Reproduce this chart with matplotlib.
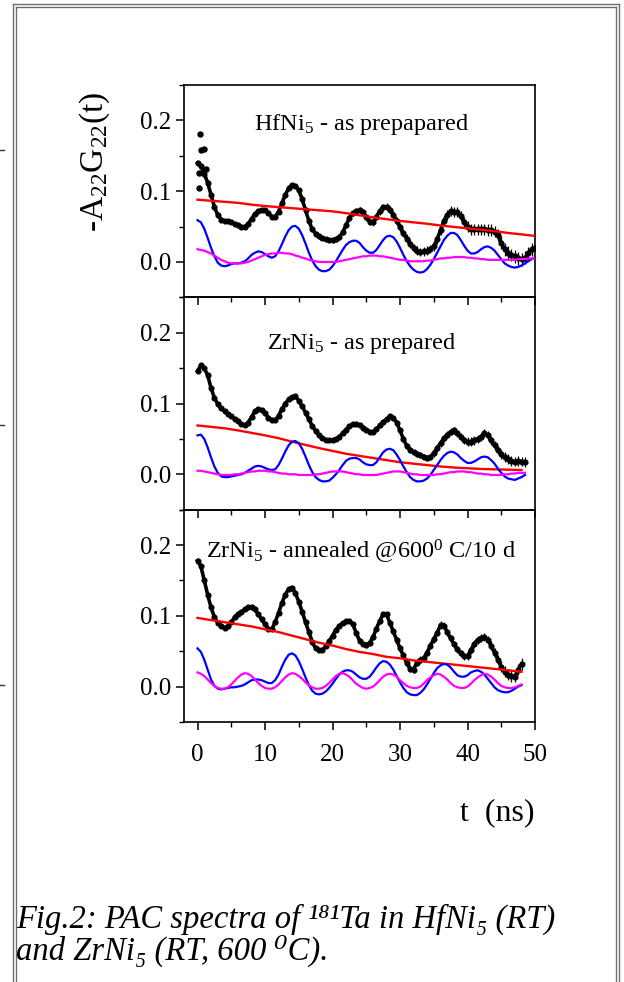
import numpy as np
import matplotlib.pyplot as plt
from matplotlib.ticker import MultipleLocator
from matplotlib.lines import Line2D

plt.rcParams['font.family'] = ['Liberation Serif', 'DejaVu Serif']
plt.rcParams['mathtext.fontset'] = 'custom'
plt.rcParams['mathtext.rm'] = 'Liberation Serif'
plt.rcParams['mathtext.it'] = 'Liberation Serif:italic'
plt.rcParams['mathtext.bf'] = 'Liberation Serif:bold'

# ---- HfNi5 as prepared (0..50 ns, every 0.5 ns)
t_hf = np.arange(0, 50.01, 0.5)
hf_data = [0.140, 0.135, 0.125, 0.112, 0.095, 0.078, 0.066, 0.060, 0.058, 0.058,
           0.056, 0.054, 0.052, 0.050, 0.050, 0.054, 0.061, 0.068, 0.072, 0.074,
           0.073, 0.069, 0.064, 0.064, 0.071, 0.083, 0.095, 0.104, 0.109, 0.108,
           0.101, 0.089, 0.073, 0.058, 0.046, 0.040, 0.036, 0.034, 0.032, 0.031,
           0.031, 0.032, 0.035, 0.042, 0.052, 0.062, 0.069, 0.072, 0.073, 0.070,
           0.063, 0.057, 0.056, 0.064, 0.072, 0.077, 0.078, 0.074, 0.067, 0.058,
           0.049, 0.041, 0.033, 0.026, 0.020, 0.016, 0.014, 0.015, 0.016, 0.018,
           0.022, 0.032, 0.045, 0.058, 0.067, 0.072, 0.071, 0.070, 0.065, 0.057,
           0.050, 0.046, 0.046, 0.046, 0.046, 0.046, 0.045, 0.045, 0.043, 0.038,
           0.027, 0.018, 0.013, 0.010, 0.008, 0.005, 0.004, 0.006, 0.012, 0.018,
           0.020]
hf_err = [0.002, 0.002, 0.002, 0.003, 0.004, 0.005, 0.006, 0.007, 0.008, 0.009, 0.010]
hf_early_t = [0.15, 0.15, 0.3, 0.5, 0.9, 1.2]
hf_early_y = [0.126, 0.105, 0.181, 0.158, 0.159, 0.132]
hf_blue = [0.059, 0.056, 0.047, 0.034, 0.020, 0.008, -0.001, -0.005, -0.006, -0.005,
           -0.003, -0.002, -0.002, -0.001, 0.001, 0.005, 0.010, 0.013, 0.015, 0.014,
           0.011, 0.008, 0.006, 0.008, 0.015, 0.025, 0.036, 0.045, 0.050, 0.051,
           0.047, 0.038, 0.026, 0.013, 0.002, -0.006, -0.011, -0.013, -0.013, -0.011,
           -0.006, 0.001, 0.009, 0.017, 0.024, 0.028, 0.030, 0.030, 0.027, 0.021,
           0.016, 0.013, 0.013, 0.017, 0.024, 0.031, 0.036, 0.037, 0.035, 0.029,
           0.020, 0.010, 0.001, -0.006, -0.011, -0.014, -0.015, -0.014, -0.010, -0.004,
           0.004, 0.013, 0.022, 0.031, 0.037, 0.041, 0.041, 0.038, 0.031, 0.023,
           0.016, 0.012, 0.012, 0.014, 0.018, 0.021, 0.022, 0.020, 0.016, 0.010,
           0.004, -0.002, -0.005, -0.007, -0.008, -0.007, -0.005, -0.002, 0.001, 0.004,
           0.006]
hf_mag = [0.018, 0.017, 0.016, 0.014, 0.012, 0.009, 0.006, 0.003, 0.001, -0.001,
          -0.002, -0.002, -0.002, -0.002, -0.001, 0.000, 0.002, 0.004, 0.006, 0.008,
          0.010, 0.011, 0.012, 0.012, 0.013, 0.013, 0.012, 0.012, 0.011, 0.009,
          0.008, 0.006, 0.005, 0.003, 0.002, 0.001, 0.000, 0.000, 0.000, 0.000,
          0.000, 0.000, 0.001, 0.002, 0.003, 0.004, 0.005, 0.006, 0.007, 0.008,
          0.008, 0.009, 0.009, 0.009, 0.008, 0.008, 0.007, 0.006, 0.005, 0.004,
          0.003, 0.003, 0.002, 0.001, 0.001, 0.001, 0.001, 0.001, 0.002, 0.002,
          0.003, 0.004, 0.005, 0.005, 0.006, 0.006, 0.007, 0.007, 0.007, 0.007,
          0.006, 0.006, 0.005, 0.005, 0.004, 0.004, 0.003, 0.003, 0.003, 0.003,
          0.003, 0.003, 0.003, 0.003, 0.003, 0.004, 0.004, 0.004, 0.005, 0.005,
          0.005]
t_hf_red = np.arange(0, 50.01, 2)
hf_red = [0.088, 0.0865, 0.085, 0.0835, 0.081, 0.079, 0.0775, 0.076, 0.0745, 0.073,
          0.0715, 0.069, 0.066, 0.063, 0.0605, 0.058, 0.056, 0.054, 0.0515, 0.0495,
          0.0475, 0.0455, 0.0435, 0.041, 0.039, 0.0367]

# ---- ZrNi5 as prepared (0..48.5 ns)
t_zr = np.arange(0, 48.51, 0.5)
zr_data = [0.146, 0.154, 0.150, 0.140, 0.122, 0.108, 0.099, 0.093, 0.089, 0.085,
           0.082, 0.078, 0.075, 0.071, 0.069, 0.073, 0.081, 0.089, 0.092, 0.091,
           0.086, 0.080, 0.076, 0.076, 0.083, 0.092, 0.100, 0.106, 0.109, 0.110,
           0.104, 0.096, 0.087, 0.078, 0.068, 0.061, 0.055, 0.051, 0.049, 0.048,
           0.048, 0.050, 0.053, 0.058, 0.063, 0.068, 0.071, 0.071, 0.070, 0.066,
           0.063, 0.060, 0.060, 0.064, 0.069, 0.074, 0.078, 0.082, 0.080, 0.073,
           0.062, 0.050, 0.040, 0.034, 0.031, 0.029, 0.027, 0.025, 0.023, 0.024,
           0.030, 0.037, 0.044, 0.051, 0.056, 0.060, 0.062, 0.058, 0.053, 0.048,
           0.046, 0.046, 0.048, 0.050, 0.053, 0.058, 0.055, 0.048, 0.041, 0.034,
           0.028, 0.024, 0.021, 0.019, 0.018, 0.019, 0.018, 0.017]
zr_err = [0.002, 0.002, 0.002, 0.002, 0.003, 0.003, 0.004, 0.005, 0.006, 0.007, 0.008]
zr_blue = [0.055, 0.056, 0.050, 0.038, 0.024, 0.011, 0.002, -0.003, -0.004, -0.004,
           -0.003, -0.002, -0.001, 0.000, 0.002, 0.005, 0.008, 0.011, 0.012, 0.011,
           0.009, 0.007, 0.006, 0.007, 0.013, 0.022, 0.032, 0.041, 0.046, 0.047,
           0.044, 0.036, 0.025, 0.013, 0.003, -0.004, -0.008, -0.010, -0.010, -0.009,
           -0.005, 0.000, 0.006, 0.013, 0.019, 0.022, 0.023, 0.023, 0.021, 0.017,
           0.014, 0.013, 0.013, 0.017, 0.024, 0.031, 0.035, 0.036, 0.034, 0.028,
           0.020, 0.011, 0.003, -0.004, -0.008, -0.010, -0.010, -0.009, -0.006, -0.001,
           0.006, 0.013, 0.020, 0.026, 0.030, 0.032, 0.031, 0.028, 0.023, 0.019,
           0.016, 0.016, 0.018, 0.021, 0.024, 0.025, 0.024, 0.020, 0.015, 0.008,
           0.002, -0.003, -0.006, -0.007, -0.008, -0.006, -0.004, -0.001]
zr_mag = [0.005, 0.005, 0.004, 0.003, 0.002, 0.001, 0.000, -0.001, -0.001, -0.001,
          -0.001, 0.000, 0.000, 0.001, 0.002, 0.003, 0.004, 0.004, 0.005, 0.005,
          0.005, 0.004, 0.004, 0.003, 0.002, 0.001, 0.001, 0.000, 0.000, 0.000,
          -0.001, -0.001, -0.001, -0.001, -0.001, 0.000, 0.000, 0.001, 0.002, 0.003,
          0.004, 0.004, 0.004, 0.004, 0.003, 0.002, 0.001, 0.000, 0.000, -0.001,
          -0.001, -0.001, -0.001, -0.001, 0.000, 0.001, 0.002, 0.003, 0.004, 0.004,
          0.004, 0.003, 0.002, 0.001, 0.000, 0.000, -0.001, -0.001, -0.001, -0.001,
          -0.001, 0.000, 0.000, 0.001, 0.002, 0.003, 0.003, 0.004, 0.004, 0.004,
          0.003, 0.003, 0.002, 0.001, 0.001, 0.000, 0.000, -0.001, -0.001, -0.001,
          -0.001, 0.000, 0.000, 0.001, 0.001, 0.002, 0.002, 0.002]
t_zr_red = np.arange(0, 48.01, 2)
zr_red = [0.069, 0.067, 0.065, 0.062, 0.0585, 0.055, 0.051, 0.046, 0.0415, 0.037,
          0.033, 0.029, 0.026, 0.023, 0.020, 0.017, 0.015, 0.013, 0.011, 0.0095,
          0.0085, 0.0075, 0.007, 0.0065, 0.006]

# ---- ZrNi5 annealed 600 C / 10 d (0..48 ns)
t_ann = np.arange(0, 48.01, 0.5)
ann_data = [0.178, 0.170, 0.150, 0.130, 0.112, 0.098, 0.090, 0.086, 0.083, 0.085,
            0.091, 0.098, 0.103, 0.106, 0.109, 0.112, 0.113, 0.109, 0.102, 0.095,
            0.088, 0.082, 0.081, 0.091, 0.104, 0.118, 0.130, 0.138, 0.140, 0.132,
            0.120, 0.106, 0.091, 0.077, 0.063, 0.054, 0.051, 0.052, 0.057, 0.064,
            0.072, 0.080, 0.086, 0.090, 0.092, 0.093, 0.088, 0.076, 0.065, 0.060,
            0.059, 0.062, 0.070, 0.082, 0.093, 0.102, 0.102, 0.090, 0.078, 0.066,
            0.054, 0.044, 0.033, 0.025, 0.024, 0.034, 0.038, 0.040, 0.048, 0.058,
            0.067, 0.076, 0.087, 0.086, 0.077, 0.068, 0.060, 0.053, 0.047, 0.043,
            0.043, 0.052, 0.060, 0.066, 0.069, 0.070, 0.066, 0.058, 0.048, 0.038,
            0.028, 0.021, 0.017, 0.015, 0.014, 0.024, 0.032]
ann_err = [0.002, 0.002, 0.002, 0.002, 0.003, 0.004, 0.005, 0.005, 0.006, 0.008, 0.009]
ann_blue = [0.054, 0.049, 0.038, 0.024, 0.010, 0.001, -0.003, -0.004, -0.003, -0.002,
            -0.001, -0.001, 0.000, 0.001, 0.003, 0.006, 0.009, 0.010, 0.010, 0.009,
            0.007, 0.005, 0.005, 0.009, 0.017, 0.028, 0.038, 0.045, 0.047, 0.044,
            0.036, 0.025, 0.013, 0.002, -0.006, -0.010, -0.011, -0.010, -0.007, -0.002,
            0.004, 0.011, 0.017, 0.021, 0.023, 0.023, 0.021, 0.017, 0.013, 0.011,
            0.011, 0.014, 0.020, 0.027, 0.033, 0.036, 0.035, 0.031, 0.024, 0.015,
            0.006, -0.002, -0.008, -0.011, -0.012, -0.012, -0.009, -0.004, 0.003, 0.011,
            0.019, 0.026, 0.030, 0.032, 0.031, 0.027, 0.021, 0.016, 0.014, 0.014,
            0.016, 0.020, 0.022, 0.023, 0.021, 0.017, 0.011, 0.005, -0.001, -0.005,
            -0.007, -0.008, -0.008, -0.006, -0.003, 0.000, 0.002]
ann_mag = [0.020, 0.018, 0.015, 0.010, 0.005, 0.001, -0.002, -0.003, -0.003, -0.001,
           0.003, 0.008, 0.013, 0.017, 0.019, 0.018, 0.015, 0.010, 0.005, 0.001,
           -0.002, -0.003, -0.003, -0.001, 0.003, 0.008, 0.013, 0.017, 0.019, 0.018,
           0.015, 0.011, 0.006, 0.002, -0.001, -0.003, -0.003, -0.002, 0.001, 0.005,
           0.010, 0.015, 0.018, 0.019, 0.017, 0.014, 0.009, 0.004, 0.001, -0.002,
           -0.003, -0.002, 0.000, 0.004, 0.009, 0.014, 0.017, 0.018, 0.017, 0.014,
           0.009, 0.005, 0.001, -0.001, -0.002, -0.002, 0.000, 0.004, 0.009, 0.013,
           0.016, 0.018, 0.017, 0.014, 0.010, 0.005, 0.001, -0.001, -0.002, -0.002,
           0.000, 0.004, 0.009, 0.013, 0.016, 0.018, 0.017, 0.014, 0.010, 0.005,
           0.001, -0.001, -0.002, -0.002, -0.001, 0.001, 0.003]
t_ann_red = np.arange(0, 48.01, 2)
ann_red = [0.097, 0.094, 0.091, 0.088, 0.085, 0.081, 0.077, 0.072, 0.067, 0.062,
           0.058, 0.053, 0.049, 0.046, 0.042, 0.040, 0.037, 0.035, 0.033, 0.031,
           0.029, 0.027, 0.025, 0.023, 0.021]

labels = ['HfNi$_5$ - as prepapared',
          'ZrNi$_5$ - as prepared',
          'ZrNi$_5$ - annealed @600$^0$ C/10 d']
label_y = [0.79, 0.758, 0.772]


def draw_panel(ax, t, data, err, t_red, red, blue, mag, label, ly):
    yerr = [err[min(int(x // 5), len(err) - 1)] for x in t]
    ax.errorbar(t, data, yerr=yerr, fmt='none', ecolor='k', elinewidth=0.9,
                capsize=0, zorder=2)
    ax.plot(t, data, '-o', color='k', lw=2.6, ms=3.4, zorder=2)
    ax.plot(t_red, red, '-', color='#ff0000', lw=1.7, zorder=3)
    ax.plot(t, blue, '-', color='#0000ff', lw=1.6, zorder=4)
    ax.plot(t, mag, '-', color='#ff00ff', lw=1.6, zorder=4)
    ax.text(0.505, ly, label, transform=ax.transAxes, ha='center',
            va='baseline', fontsize=17.5)
    ax.set_xlim(-2, 50)
    ax.set_ylim(-0.05, 0.25)
    ax.xaxis.set_major_locator(MultipleLocator(10))
    ax.xaxis.set_minor_locator(MultipleLocator(5))
    ax.yaxis.set_major_locator(MultipleLocator(0.1))
    ax.yaxis.set_minor_locator(MultipleLocator(0.05))
    ax.yaxis.set_major_formatter(plt.FuncFormatter(lambda v, p: '%.1f' % v))
    ax.tick_params(which='major', direction='out', length=6, width=1.1,
                   labelsize=18, top=False, right=False)
    ax.tick_params(which='minor', direction='out', length=3.5, width=1.0,
                   top=False, right=False)
    ax.tick_params(axis='x', pad=10)
    for s in ax.spines.values():
        s.set_linewidth(1.2)
    ax.patch.set_visible(False)


fig = plt.figure(figsize=(6.24, 9.82), dpi=100)
left, width = 0.2949, 0.5625
h = 0.2162
bottoms = [0.6972, 0.4810, 0.2648]
axes = [fig.add_axes([left, b, width, h]) for b in bottoms]

draw_panel(axes[0], t_hf, hf_data, hf_err, t_hf_red, hf_red, hf_blue, hf_mag,
           labels[0], label_y[0])
axes[0].plot(hf_early_t, hf_early_y, 'o', ms=3.6, color='k', zorder=2)
draw_panel(axes[1], t_zr, zr_data, zr_err, t_zr_red, zr_red, zr_blue, zr_mag,
           labels[1], label_y[1])
draw_panel(axes[2], t_ann, ann_data, ann_err, t_ann_red, ann_red, ann_blue, ann_mag,
           labels[2], label_y[2])
for ax in axes[:2]:
    ax.tick_params(axis='x', labelbottom=False)

fig.text(0.152, 0.8355, '-A$_{22}$G$_{22}$(t)', rotation=90, ha='center',
         va='center', fontsize=24)
fig.text(0.797, 0.165, 't  (ns)', ha='center', va='baseline', fontsize=23)

fig.text(0.026, 0.055, 'Fig.2: PAC spectra of \u00b9\u2078\u00b9Ta in HfNi\u2085 (RT)',
         style='italic', fontsize=23.5, ha='left', va='baseline')
fig.text(0.026, 0.0224, 'and ZrNi\u2085 (RT, 600 \u2070C).',
         style='italic', fontsize=23.5, ha='left', va='baseline')

# page frame (double line) and margin marks
W, H = 624.0, 982.0
frame = '#6e6e6e'
fig.add_artist(Line2D([13 / W, 13 / W], [0, 1 - 4 / H], color=frame, lw=1.0))
fig.add_artist(Line2D([16 / W, 16 / W], [0, 1 - 7 / H], color=frame, lw=1.0))
fig.add_artist(Line2D([619 / W, 619 / W], [0, 1 - 4 / H], color=frame, lw=1.0))
fig.add_artist(Line2D([616 / W, 616 / W], [0, 1 - 7 / H], color=frame, lw=1.0))
fig.add_artist(Line2D([13 / W, 619 / W], [1 - 4 / H, 1 - 4 / H], color=frame, lw=1.0))
fig.add_artist(Line2D([16 / W, 616 / W], [1 - 7 / H, 1 - 7 / H], color=frame, lw=1.0))
for yy in (150, 425, 685):
    fig.add_artist(Line2D([0, 4 / W], [1 - yy / H, 1 - yy / H], color='#333333', lw=1.0))

fig.savefig('out.png', dpi=100)
